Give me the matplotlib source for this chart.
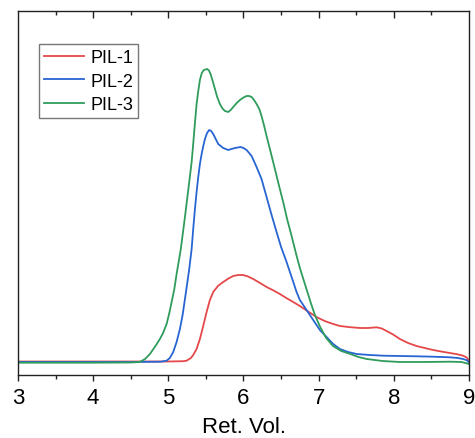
import matplotlib
matplotlib.use("Agg")
import matplotlib.pyplot as plt
import matplotlib.transforms as mtransforms
from matplotlib.markers import TICKDOWN
from matplotlib.ticker import MultipleLocator
import numpy as np

plt.rcParams['font.family'] = ['Liberation Sans', 'DejaVu Sans']

# Retention volume (x) and detector signal (arbitrary units)
pil1_x = [3.0, 4.0, 5.0, 5.2, 5.243, 5.3, 5.331, 5.376, 5.42, 5.464, 5.509, 5.553, 5.597, 5.66,
          5.73, 5.8, 5.863, 5.93, 5.996, 6.06, 6.129, 6.22, 6.307, 6.4, 6.484, 6.57, 6.661,
          6.75, 6.86, 6.97, 7.08, 7.193, 7.282, 7.42, 7.548, 7.66, 7.77, 7.84, 7.903, 7.99,
          8.08, 8.19, 8.302, 8.41, 8.523, 8.63, 8.745, 8.84, 8.922, 8.97, 9.0]
pil1_y = [0.5, 0.5, 0.5, 0.8, 1.3, 4, 7, 13, 23, 36, 50, 62, 70, 76,
          80, 83.5, 86, 87, 87, 85.5, 83, 79, 75, 71.5, 68, 64, 60,
          56, 50.5, 45, 41, 38, 36, 34.8, 34, 34, 34.7, 33.5, 31, 27.5,
          23, 19, 16, 14, 12, 10.5, 9, 7.8, 6.3, 4.5, 1.3]

pil2_x = [3.0, 4.5, 4.9, 4.977, 5.02, 5.065, 5.11, 5.154, 5.19, 5.221, 5.25, 5.278, 5.31,
          5.331, 5.354, 5.376, 5.398, 5.42, 5.443, 5.465, 5.487, 5.515, 5.544, 5.57, 5.597,
          5.63, 5.664, 5.73, 5.797, 5.886, 5.961, 6.0, 6.041, 6.108, 6.174, 6.24, 6.307,
          6.37, 6.44, 6.5, 6.573, 6.64, 6.706, 6.75, 6.839, 6.927, 7.016, 7.105, 7.193,
          7.282, 7.39, 7.504, 7.68, 7.858, 8.08, 8.302, 8.52, 8.745, 8.85, 8.922, 8.97, 9.0]
pil2_y = [0, 0, 0.3, 1.3, 4, 10, 20, 33, 47, 63, 78, 93, 113,
          133, 153, 170, 185, 198, 208, 216, 223, 229, 232, 231, 228,
          223, 218, 214, 212, 214, 215, 214, 212, 206, 195, 183, 165,
          148, 130, 115, 100, 85, 70, 62, 52, 42, 32, 25, 18,
          13, 10, 8, 7, 6.3, 6, 5.7, 5.3, 4.7, 4, 3, 1.8, -0.3]

pil3_x = [3.0, 4.0, 4.5, 4.62, 4.69, 4.755, 4.82, 4.888, 4.93, 4.977, 5.01, 5.044, 5.08, 5.11,
          5.164, 5.221, 5.265, 5.31, 5.331, 5.355, 5.376, 5.4, 5.42, 5.445, 5.473, 5.517,
          5.54, 5.562, 5.59, 5.62, 5.65, 5.686, 5.72, 5.753, 5.797, 5.83, 5.863, 5.91,
          5.952, 6.0, 6.041, 6.075, 6.108, 6.14, 6.174, 6.21, 6.24, 6.275, 6.307, 6.351,
          6.418, 6.47, 6.528, 6.58, 6.64, 6.7, 6.75, 6.8, 6.85, 6.9, 6.95, 7.02, 7.1, 7.19,
          7.3, 7.42, 7.53, 7.64, 7.85, 8.08, 8.4, 8.75, 8.9, 9.0]
pil3_y = [-0.7, -0.7, -0.5, 0, 3, 8, 15, 23, 29, 38, 48, 60, 73, 88,
          112, 145, 172, 200, 218, 240, 258, 272, 282, 289, 292, 293,
          291.5, 288, 281, 273, 265, 258, 253.5, 251, 250, 252, 255, 259,
          262, 264.5, 266, 266, 265, 262, 258, 253, 246, 236, 226, 213,
          193, 177, 160, 143, 126, 108, 94, 82, 70, 58, 47, 35, 24, 16,
          11, 8, 5, 3, 1, 0, 0, 0.3, 0, -2]

series = [("PIL-1", pil1_x, pil1_y, "#E5484A"),
          ("PIL-2", pil2_x, pil2_y, "#2765D3"),
          ("PIL-3", pil3_x, pil3_y, "#2F9C5B")]

fig = plt.figure(figsize=(4.75, 4.39), dpi=100)
ax = fig.add_axes([18/475, (439-376)/439, (469-18)/475, (376-12)/439])

for name, xs, ys, c in series:
    ax.plot(xs, ys, color=c, lw=1.3, label=name, solid_joinstyle='round')

ax.set_xlim(3, 9)
ax.set_ylim(-13, 351)
ax.xaxis.set_major_locator(MultipleLocator(1))
ax.xaxis.set_minor_locator(MultipleLocator(0.5))
ax.set_yticks([])
ax.tick_params(axis='x', which='major', direction='out', length=4.5, width=1,
               labelsize=16, pad=4, top=False, color='#222222')
ax.tick_params(axis='x', which='minor', direction='out', length=2.7, width=1, top=False,
               color='#222222')

# inward tick marks along the top edge, at the same locations as the bottom ticks
xlo, xhi = ax.get_xlim()
top_major = ax.xaxis.get_major_locator().tick_values(xlo, xhi)
top_major = top_major[(top_major > xlo) & (top_major < xhi)]
top_minor = ax.xaxis.get_minor_locator().tick_values(xlo, xhi)
top_minor = np.array([t for t in top_minor if xlo < t < xhi and abs(t - round(t)) > 1e-6])
trans = mtransforms.blended_transform_factory(ax.transData, ax.transAxes)
ax.plot(top_major, np.ones_like(top_major), transform=trans, linestyle='none',
        marker=TICKDOWN, markersize=5, markeredgewidth=1, color='#222222', clip_on=False)
ax.plot(top_minor, np.ones_like(top_minor), transform=trans, linestyle='none',
        marker=TICKDOWN, markersize=2.6, markeredgewidth=1, color='#222222', clip_on=False)

for s in ax.spines.values():
    s.set_linewidth(1.0)
    s.set_color('#222222')

ax.set_xlabel("Ret. Vol.", fontsize=16, labelpad=6)

handles, labels = ax.get_legend_handles_labels()
leg = ax.legend(handles[:3], labels[:3], loc='upper left',
                bbox_to_anchor=(21/451, 1 - 33/364), fontsize=13,
                frameon=True, fancybox=False, edgecolor='#777777', framealpha=1,
                handlelength=2.2, handletextpad=0.35, borderpad=0.28, labelspacing=0.36,
                borderaxespad=0)
leg.get_frame().set_linewidth(1.0)

fig.savefig("out.png", dpi=100)
